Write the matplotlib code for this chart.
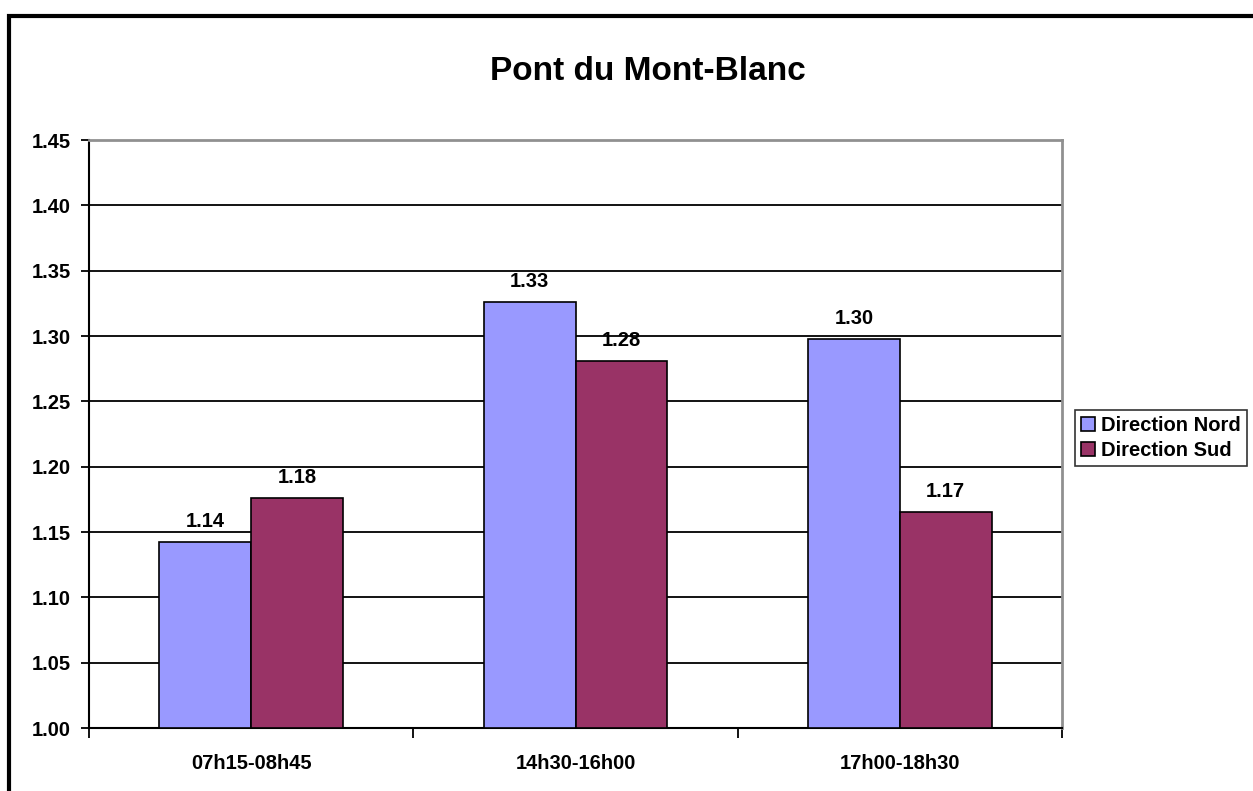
import numpy as np
import matplotlib
matplotlib.use("Agg")
import matplotlib.pyplot as plt
from matplotlib.patches import Rectangle

plt.rcParams['font.family'] = ['Liberation Sans', 'DejaVu Sans']
plt.rcParams['font.weight'] = 'bold'

# data
periods = ['07h15-08h45', '14h30-16h00', '17h00-18h30']
nord = [1.142, 1.326, 1.298]
sud = [1.176, 1.281, 1.165]
series_names = ['Direction Nord', 'Direction Sud']
colors = ['#9999FF', '#993366']
yticks = [1.00, 1.05, 1.10, 1.15, 1.20, 1.25, 1.30, 1.35, 1.40, 1.45]

fig = plt.figure(figsize=(12.53, 7.91), dpi=100)
ax = fig.add_axes([89/1253, 1 - 728/791, (1062-89)/1253, (728-140)/791])

x = np.arange(len(periods))
w = 0.283
b1 = ax.bar(x - w/2, np.array(nord) - 1.0, w, bottom=1.0, color=colors[0],
            edgecolor='black', linewidth=1.2, label=series_names[0], zorder=3)
b2 = ax.bar(x + w/2, np.array(sud) - 1.0, w, bottom=1.0, color=colors[1],
            edgecolor='black', linewidth=1.2, label=series_names[1], zorder=3)

for bars, vals in ((b1, nord), (b2, sud)):
    for r, v in zip(bars, vals):
        ax.annotate('%.2f' % v, (r.get_x() + r.get_width()/2, v),
                    xytext=(0, 8), textcoords='offset points',
                    ha='center', va='bottom', fontsize=14.5, fontweight='bold', zorder=4)

ax.set_ylim(1.0, 1.45)
ax.set_xlim(-0.5, len(periods) - 0.5)
ax.set_yticks(yticks)
ax.set_yticklabels(['%.2f' % t for t in yticks])
ax.yaxis.grid(True, color='black', linewidth=1.3, zorder=0)
ax.set_axisbelow(True)

ax.set_xticks(x)
ax.set_xticklabels(periods)
ax.set_xticks(np.arange(-0.5, len(periods)), minor=True)
ax.tick_params(axis='x', which='major', length=0, pad=19, labelsize=14.5)
ax.tick_params(axis='x', which='minor', length=7, width=1.3, direction='out')
ax.tick_params(axis='y', length=6, width=1.3, direction='out', pad=7, labelsize=14.5)
for lab in ax.get_xticklabels() + ax.get_yticklabels():
    lab.set_fontweight('bold')

for s in ('left', 'bottom'):
    ax.spines[s].set_color('black')
    ax.spines[s].set_linewidth(1.5)
for s in ('top', 'right'):
    ax.spines[s].set_color('#909090')
    ax.spines[s].set_linewidth(2)

fig.text(648/1253, 1 - 72/791, 'Pont du Mont-Blanc', ha='center', va='center',
         fontsize=24, fontweight='bold')

leg = fig.legend(handles=[b1, b2], loc='center left', bbox_to_anchor=(1075/1253, 1 - 438/791),
                 frameon=True, fancybox=False, edgecolor='black', fontsize=14.5,
                 handlelength=0.7, handleheight=0.7, handletextpad=0.3,
                 borderpad=0.3, labelspacing=0.3, borderaxespad=0)
leg.get_frame().set_linewidth(1.2)
for t in leg.get_texts():
    t.set_fontweight('bold')

# outer chart border
fig.patches.append(Rectangle((9/1253, -0.1), 2, 1.1 - 15.5/791, transform=fig.transFigure,
                             fill=False, edgecolor='black', linewidth=3))

fig.savefig('out.png', dpi=100)
